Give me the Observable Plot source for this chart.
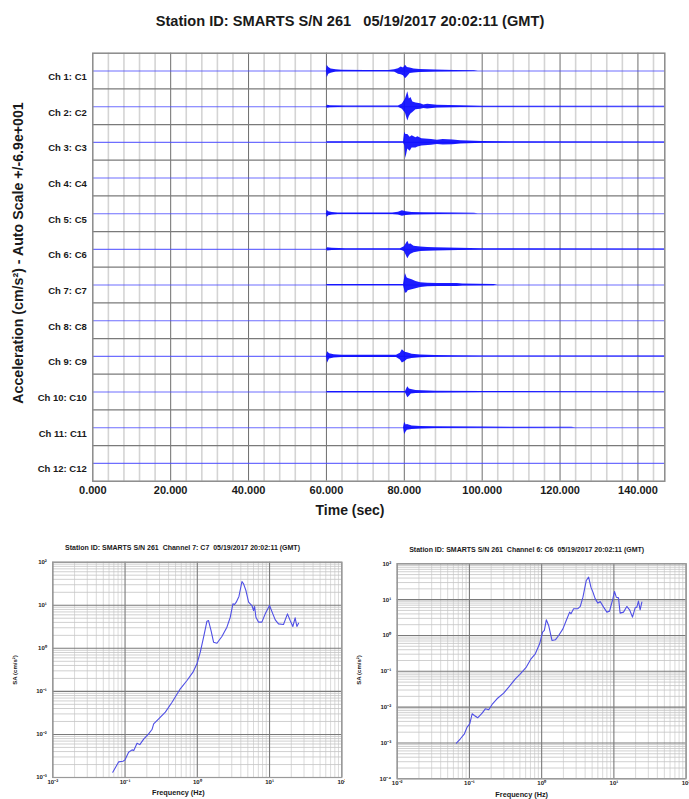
<!DOCTYPE html>
<html><head><meta charset="utf-8">
<script src="https://cdn.jsdelivr.net/npm/d3@7"></script>
<script src="https://cdn.jsdelivr.net/npm/@observablehq/plot@0.6"></script>
<style>
body{margin:0;background:#fff;}
#root{position:relative;width:689px;height:799px;overflow:hidden;background:#fff;font-family:"Liberation Sans",Arial,sans-serif;color:#1a1a1a;}
.abs{position:absolute;white-space:nowrap;font-weight:bold;line-height:1;transform:translate(-50%,-50%);z-index:3;}
.rot{transform:translate(-50%,-50%) rotate(-90deg);}
.pl{position:absolute;}
.pl svg{background:transparent;}
</style></head><body>
<div id="root">
  <div id="topChart" class="pl" style="left:0;top:0;width:689px"></div>
  <div id="bl" class="pl" style="left:0;top:530px;width:345px"></div>
  <div id="br" class="pl" style="left:345px;top:530px;width:344px"></div>

  <div class="abs" style="left:350px;top:21px;font-size:14.6px">Station ID: SMARTS S/N 261&nbsp;&nbsp;&nbsp;05/19/2017 20:02:11 (GMT)</div>
  <div class="abs rot" style="left:18px;top:253px;font-size:14.2px">Acceleration (cm/s²) - Auto Scale +/-6.9e+001</div>
  <div class="abs" style="left:350px;top:510px;font-size:14px">Time (sec)</div>

  <div class="abs" style="left:182.5px;top:547px;font-size:7px">Station ID: SMARTS S/N 261&nbsp;&nbsp;Channel 7: C7&nbsp;&nbsp;05/19/2017 20:02:11 (GMT)</div>
  <div class="abs rot" style="left:15px;top:670px;font-size:6px">SA (cm/s²)</div>
  <div class="abs" style="left:178.3px;top:792.5px;font-size:7.3px">Frequency (Hz)</div>

  <div class="abs" style="left:526.7px;top:549px;font-size:7px">Station ID: SMARTS S/N 261&nbsp;&nbsp;Channel 6: C6&nbsp;&nbsp;05/19/2017 20:02:11 (GMT)</div>
  <div class="abs rot" style="left:359px;top:670px;font-size:6px">SA (cm/s²)</div>
  <div class="abs" style="left:521.7px;top:794.5px;font-size:7.3px">Frequency (Hz)</div>
</div>
<script>
// ---------- top chart data ----------
const timeMax = 146.9;
const autoScale = 69; // +/-6.9e+001 cm/s² per channel half-row
const channelLabels = ["Ch 1: C1","Ch 2: C2","Ch 3: C3","Ch 4: C4","Ch 5: C5","Ch 6: C6",
  "Ch 7: C7","Ch 8: C8","Ch 9: C9","Ch 10: C10","Ch 11: C11","Ch 12: C12"];
const timeTicks = [0,20,40,60,80,100,120,140];

// envelopes: [time s, upward amplitude, downward amplitude] in cm/s²
const ch1Env = [[60.0,0,0],[60.2,22,26],[60.6,14,12],[61.2,8,9],[62.5,5,4],[64,3,3],[70,2.5,2.5],[76,2.5,2.5],[77.5,5,4],[78.5,9,12],[79.2,16,14],[79.8,12,18],[80.3,22,30],[80.8,14,22],[81.5,12,10],[82.5,8,8],[84,6,6],[88,4,4],[93,2.5,2.5],[98,1.5,1.5],[99,0,0]];
const ch2Env = [[60.0,0,0],[60.3,6,6],[61,4,4],[65,2.5,2.5],[78.5,2.5,2.5],[79.5,10,10],[80.3,30,25],[80.9,58,55],[81.3,30,38],[81.7,36,28],[82.2,18,22],[83,14,12],[84.2,11,10],[85,7,7],[86,9,9],[88.5,6,5],[94.5,3.5,3.5],[100,2,2],[146.9,1.3,1.3]];
const ch3Env = [[60.0,0,0],[60.3,2.5,2.5],[79.8,2.5,2.5],[80.1,39,12],[80.4,30,62],[80.9,30,26],[81.5,20,34],[82,26,22],[83,18,22],[83.5,22,18],[84.5,14,14],[87,11,11],[88.5,8,8],[90,11,10],[92.5,9,9],[94.5,6,6],[100,3,3],[110,2,2],[146.9,1.5,1.5]];
const ch5Env = [[60.0,0,0],[60.2,13,15],[60.6,8,8],[61.5,5,5],[63,3,3],[77,3,3],[78.5,6,5],[79.5,11,10],[80.5,8,7],[82,5,5],[85,4,4],[93,2.5,2.5],[98,1.5,1.5],[99,0,0]];
const ch6Env = [[60.0,0,0],[60.3,6,6],[61.5,4,4],[65,2.5,2.5],[79,2.5,2.5],[80,10,8],[80.9,31,36],[81.3,18,26],[81.6,22,20],[82.5,12,13],[84.2,9,8],[86,7,7],[88,6,6],[94,4,4],[100,2.5,2.5],[146.9,1.3,1.3]];
const ch7Env = [[60.0,0,0],[60.3,2.5,2.5],[79.8,2.5,2.5],[80.3,45,32],[80.7,28,30],[81,25,22],[82,20,18],[83,14,14],[84.2,9,10],[86,7,7],[88.5,6,6],[93.6,6,6],[95,4,4],[103,2.5,2.5],[104,0,0]];
const ch9Env = [[60.0,0,0],[60.3,18,26],[60.8,10,10],[62,6,6],[64,4,4],[78,4,4],[79,12,14],[79.5,26,26],[80.2,16,20],[80.8,14,12],[82,8,8],[84.2,5,5],[88,3.5,3.5],[93,2.5,2.5],[100,1.8,1.8],[146.9,1.3,1.3]];
const ch10Env = [[60.0,0,0],[60.3,2.5,2.5],[80.3,2.5,2.5],[80.9,20,22],[81.3,12,16],[81.8,10,8],[83,6,6],[88,3.5,3.5],[100,2,2],[146.9,1.3,1.3]];
const ch11Env = [[79.8,0,0],[80.1,21,26],[80.5,10,16],[80.8,12,10],[82,7,7],[84.2,5,5],[88,3.5,3.5],[100,2.5,2.5],[110,2,2],[123,1.5,1.5],[124,0,0]];
const channelEnvelopes = [ch1Env, ch2Env, ch3Env, null, ch5Env, ch6Env, ch7Env, null, ch9Env, ch10Env, ch11Env, null];

// ---------- response spectra data ----------
const freqC7 = [0.0676,0.0817,0.0937,0.1,0.112,0.125,0.132,0.1466,0.16,0.181,0.212,0.236,0.249,0.292,0.361,0.447,0.582,0.72,0.871,0.989,1.1,1.25,1.36,1.43,1.55,1.68,1.87,2.19,2.57,2.86,3.11,3.28,3.46,3.77,4.15,4.37,4.71,5.13,5.7,6.01,6.21,6.48,7.05,7.83,8.71,10.0,11.1,12.0,13.3,15.6,17.7,19.3,21.0,22.6,23.9,25.2];
const saC7 = [1.33e-3,2.31e-3,2.39e-3,2.57e-3,3.87e-3,4.38e-3,4.24e-3,6.27e-3,5.8e-3,7.76e-3,0.0103,0.013,0.0176,0.023,0.0329,0.056,0.1146,0.179,0.279,0.436,0.813,2.17,4.26,4.42,2.59,1.39,1.31,1.88,3.1,5.28,10.8,10.4,11.8,16,35.6,31.4,22,11.8,9.86,7.55,9.36,5.28,4.05,4.05,6.31,9.86,6.31,4.58,3.7,3.57,6.31,4.42,3.21,5.1,3.21,3.84];
const freqC6 = [0.066,0.075,0.0853,0.0929,0.101,0.109,0.117,0.13,0.15,0.166,0.185,0.206,0.241,0.298,0.35,0.433,0.507,0.614,0.713,0.817,0.938,1.03,1.09,1.16,1.25,1.39,1.55,1.72,1.97,2.19,2.44,2.55,2.77,3.15,3.43,3.73,4.15,4.47,4.81,5.13,5.52,6.01,6.47,7.2,8.0,8.71,9.68,10.2,10.8,11.6,12.2,13.6,15.1,16.5,18.1,19.7,20.8,21.9,23.1,24.4];
const saC6 = [9.9e-4,1.31e-3,1.8e-3,2.77e-3,3.43e-3,6.52e-3,5.85e-3,5.04e-3,6.8e-3,8.98e-3,8.43e-3,0.0119,0.0171,0.0246,0.0361,0.0618,0.0851,0.131,0.223,0.308,0.585,1.24,1.38,2.74,1.9,0.724,0.757,1.0,1.53,2.62,4.48,4.03,5.55,5.55,6.45,11.7,34.3,42.5,22.3,16.2,10.5,7.98,8.89,6.18,4.48,4.78,10.5,16.9,11.7,11.2,4.2,4.48,6.45,5.2,3.25,5.92,6.18,9.08,5.2,8.51];
const freqDecades = [0.01,0.1,1,10,100];
const saDecadesC7 = [0.001,0.01,0.1,1,10,100];
const saDecadesC6 = [0.0001,0.001,0.01,0.1,1,10,100];

// ---------- top chart ----------
const rowCenters = channelLabels.map((_, i) => i + 0.5);
const rowBounds = d3.range(1, channelLabels.length);
const minorTimes = d3.range(4, timeMax, 4).filter(t => t % 20 !== 0);
const envRows = [];
channelEnvelopes.forEach((env, i) => {
  if (!env) return;
  env.forEach(([t, up, down]) => envRows.push({ch: i, t, up, down}));
});

const waveChart = Plot.plot({
  width: 689, height: 525,
  marginLeft: 92.3, marginRight: 24.7, marginTop: 52.7, marginBottom: 44.3,
  x: {domain: [0, timeMax]},
  y: {domain: [channelLabels.length, 0]},
  style: {fontFamily: "'Liberation Sans', Arial, sans-serif", background: "transparent", color: "#1a1a1a"},
  marks: [
    Plot.ruleX(minorTimes, {stroke: "#d4d4d4", strokeWidth: 1.6}),
    Plot.ruleX(timeTicks.slice(1), {stroke: "#6e6e6e", strokeWidth: 1}),
    Plot.ruleY(rowBounds, {stroke: "#7a7a7a", strokeWidth: 1.3}),
    Plot.ruleY(rowCenters, {stroke: "#4a4aff", strokeWidth: 1.1, strokeOpacity: 0.8}),
    Plot.areaY(envRows, {
      x: "t",
      y1: d => d.ch + 0.5 - d.up / (2 * autoScale),
      y2: d => d.ch + 0.5 + d.down / (2 * autoScale),
      z: "ch", fill: "#0a0aff", fillOpacity: 0.92, curve: "linear"
    }),
    Plot.frame({stroke: "#8a8a8a", strokeWidth: 1.5}),
    Plot.axisX(timeTicks, {tickSize: 0, tickPadding: 5, tickFormat: d => d.toFixed(3), fontSize: 11, fontWeight: "bold", label: null}),
    Plot.axisY(rowCenters, {tickSize: 0, tickPadding: 6, tickFormat: d => channelLabels[Math.floor(d)], fontSize: 9.5, fontWeight: "bold", dy: 6, label: null})
  ]
});
document.getElementById("topChart").append(waveChart);

// ---------- spectra ----------
const supDigits = {"-":"⁻","0":"⁰","1":"¹","2":"²","3":"³","4":"⁴","5":"⁵","6":"⁶","7":"⁷","8":"⁸","9":"⁹"};
const supFmt = d => "10" + String(Math.round(Math.log10(d))).split("").map(c => supDigits[c]).join("");
const minorsOf = decs => decs.slice(0, -1).flatMap(d => [2,3,4,5,6,7,8,9].map(k => k * d));

function spectrum(freq, sa, decY, o) {
  const pts = freq.map((f, i) => ({f, sa: sa[i]}));
  return Plot.plot({
    width: o.width, height: 269,
    marginLeft: o.ml, marginRight: o.mr, marginTop: o.mt, marginBottom: o.mb,
    x: {type: "log", domain: [freqDecades[0], freqDecades[freqDecades.length - 1]]},
    y: {type: "log", domain: [decY[0], decY[decY.length - 1]]},
    style: {fontFamily: "'Liberation Sans', Arial, sans-serif", background: "transparent", color: "#222"},
    marks: [
      Plot.ruleX(minorsOf(freqDecades), {stroke: "#d0d0d0", strokeWidth: 0.8}),
      Plot.ruleY(minorsOf(decY), {stroke: "#c4c4c4", strokeWidth: 0.8}),
      Plot.ruleX(freqDecades, {stroke: "#7a7a7a", strokeWidth: 1.1}),
      Plot.ruleY(decY, {stroke: "#7a7a7a", strokeWidth: 1.1}),
      Plot.frame({stroke: "#9a9a9a", strokeWidth: 1.2}),
      Plot.line(pts, {x: "f", y: "sa", stroke: "#4f4fe6", strokeWidth: 1.1}),
      Plot.axisX(freqDecades, {tickSize: 0, tickPadding: 2, tickFormat: supFmt, fontSize: 6, fontWeight: "bold", label: null}),
      Plot.axisY(decY, {tickSize: 0, tickPadding: 6, tickFormat: supFmt, fontSize: 6, fontWeight: "bold", label: null})
    ]
  });
}
document.getElementById("bl").append(spectrum(freqC7, saC7, saDecadesC7, {width: 345, ml: 52.3, mr: 3.7, mt: 31.7, mb: 22}));
document.getElementById("br").append(spectrum(freqC6, saC6, saDecadesC6, {width: 344, ml: 51.7, mr: 3.4, mt: 33.3, mb: 20.7}));
</script>
</body></html>
